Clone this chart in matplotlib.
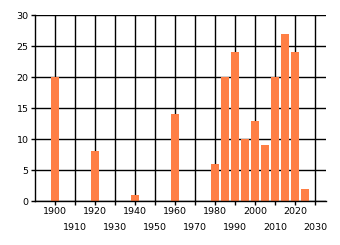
import matplotlib
matplotlib.use("Agg")
import matplotlib.pyplot as plt

years = [1900, 1920, 1940, 1960, 1980, 1985, 1990, 1995, 2000, 2005, 2010, 2015, 2020, 2025]
counts = [20, 8, 1, 14, 6, 20, 24, 10, 13, 9, 20, 27, 24, 2]
major_ticks = [1900, 1920, 1940, 1960, 1980, 2000, 2020]
minor_ticks = [1910, 1930, 1950, 1970, 1990, 2010, 2030]
y_ticks = [0, 5, 10, 15, 20, 25, 30]

plt.rcParams['font.family'] = ['DejaVu Sans']
fig = plt.figure(figsize=(3.4, 2.45), dpi=100)
ax = fig.add_axes([35/340, 44/245, 291/340, 185.7/245])

ax.bar(years, counts, width=4, color='#FF7F45', zorder=3)

ax.set_xlim(1890, 2035.5)
ax.set_ylim(0, 30)
ax.set_yticks(y_ticks)
ax.set_xticks(major_ticks)
ax.set_xticks(minor_ticks, minor=True)
ax.set_xticklabels([str(t) for t in major_ticks])
ax.set_xticklabels([str(t) for t in minor_ticks], minor=True)

ax.tick_params(axis='x', which='major', length=3, width=1, pad=1.5, labelsize=6.8, color='black')
ax.tick_params(axis='x', which='minor', length=3, width=1, pad=13, labelsize=6.8, color='black')
ax.tick_params(axis='y', length=3, width=1, pad=1.5, labelsize=6.8)

ax.grid(True, which='both', color='black', linewidth=1, zorder=0)
ax.set_axisbelow(True)
for s in ['top', 'right']:
    ax.spines[s].set_visible(False)
for s in ['left', 'bottom']:
    ax.spines[s].set_linewidth(1)
    ax.spines[s].set_zorder(4)

fig.savefig('out.png', dpi=100)
